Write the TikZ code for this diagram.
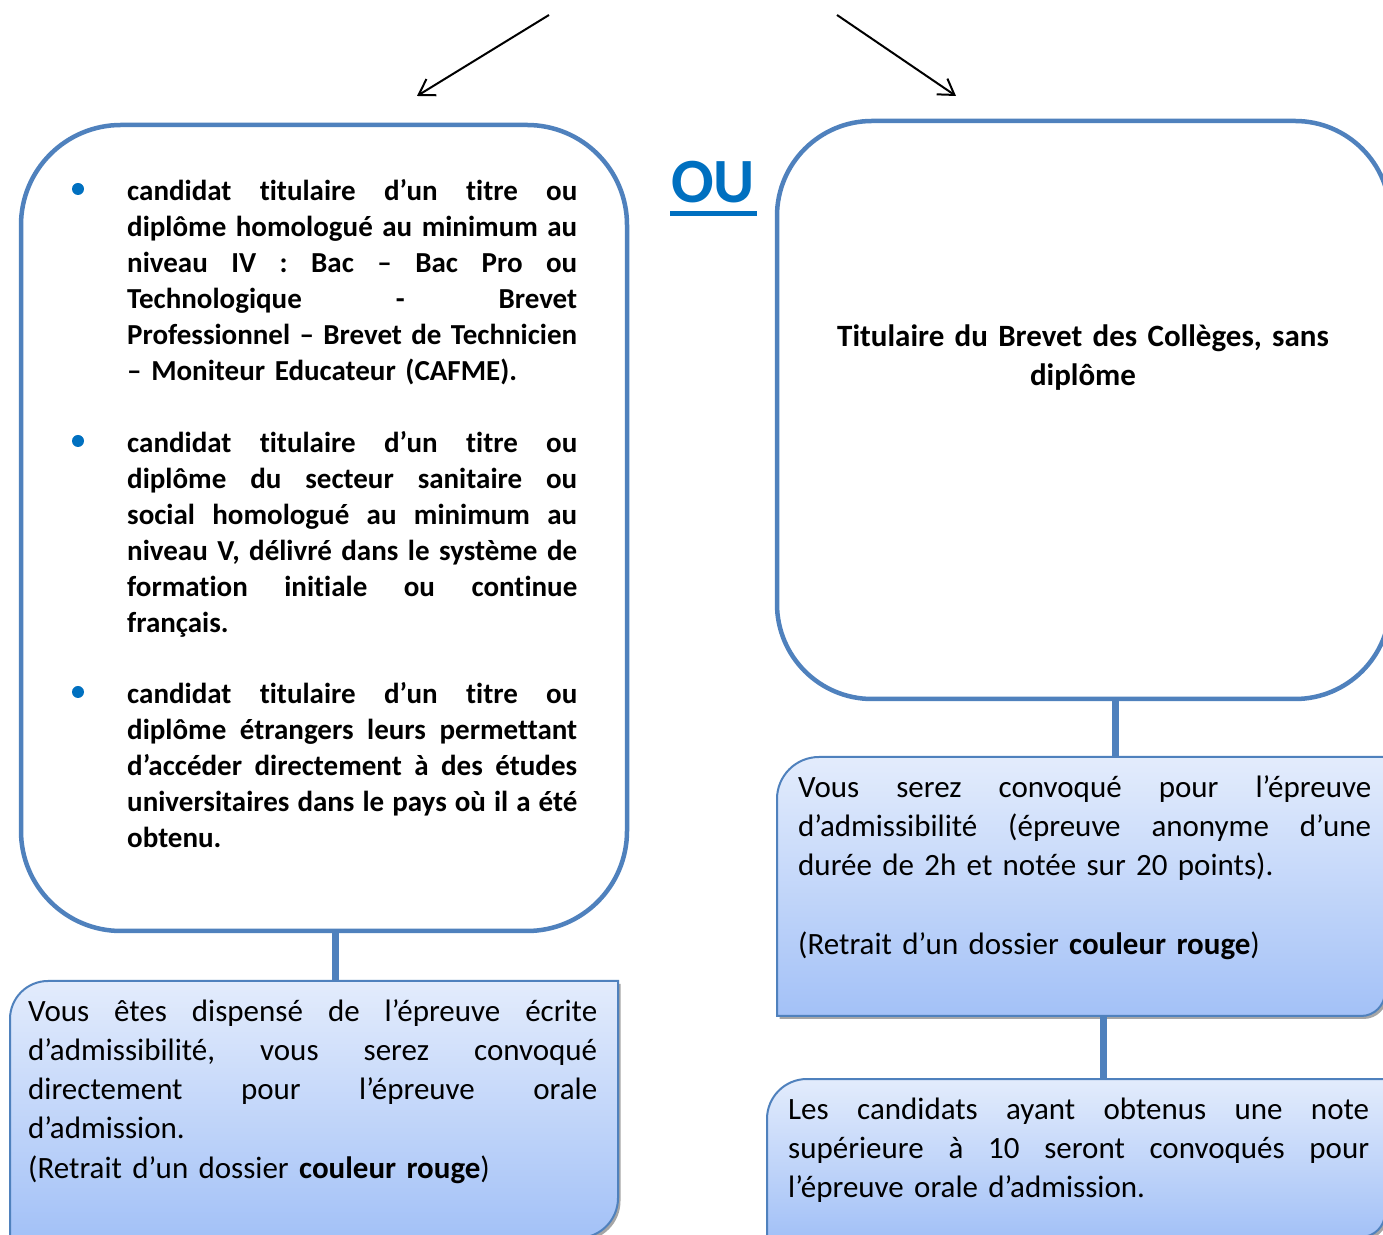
\documentclass[tikz,border=0pt]{standalone}
\usepackage{fontspec}
\setmainfont{Carlito}[Ligatures=NoCommon]
\usetikzlibrary{arrows.meta}
\definecolor{boxblue}{HTML}{4F81BD}
\definecolor{oublue}{HTML}{0070C0}
\definecolor{gradtop}{HTML}{E3ECFC}
\definecolor{gradbot}{HTML}{A3C1F7}
\newcommand\jl[2]{{\spaceskip=0pt\xspaceskip=0pt\makebox[#1][s]{#2}}}
\newcommand\jb[1]{\jl{450pt}{#1}}
\frenchspacing
\tikzset{
  whitebox/.style={draw=boxblue, line width=4.5pt, fill=white, rectangle, inner sep=0pt},
  gframe/.style={rectangle, draw=none, inner sep=0pt},
  gfill/.style={draw=boxblue, line width=2pt, top color=gradtop, bottom color=gradbot},
  gshadow/.style={fill=black!35},
  conn/.style={draw=boxblue, line width=7pt},
  arr/.style={draw=black, line width=2pt, -{Straight Barb[length=15pt,width=19pt]}},
  btext/.style={inner sep=0pt, anchor=north west, align=left, font=\fontsize{29}{36.1}\selectfont\bfseries, text width=450pt},
  ntext/.style={inner sep=0pt, anchor=north west, align=left, font=\fontsize{31}{39.2}\selectfont},
  bulletdot/.style={circle, fill=oublue, minimum size=12pt, inner sep=0pt}
}
\begin{document}
\begin{tikzpicture}[x=1pt,y=1pt]
\useasboundingbox (0,0) rectangle (1383,1234);
\clip (0,0) rectangle (1383,1234);
\fill[white] (0,0) rectangle (1383,1234);

% white boxes
\node[whitebox, rounded corners=100pt, minimum width=606pt, minimum height=806pt] (wl) at (324,706) {};
\node[whitebox, rounded corners=95pt, minimum width=613pt, minimum height=578pt] (wr) at (1083.5,824) {};

% gradient box frames (for anchors)
\node[gframe, minimum width=608pt, minimum height=257pt] (gl) at (314,124.5) {};
\node[gframe, minimum width=608pt, minimum height=259pt] (gr1) at (1081,347.5) {};
\node[gframe, minimum width=618pt, minimum height=158pt] (gr2) at (1076,76) {};

% shadows
\fill[gshadow, xshift=2.5pt, yshift=-3pt] (10,215) .. controls (10,236) and (27,253) .. (48,253) -- (618,253) -- (618,36) .. controls (618,13.9) and (600.1,-4) .. (578,-4) -- (10,-4) -- cycle;
\fill[gshadow, xshift=2.5pt, yshift=-3pt] (777,435) .. controls (777,458.2) and (795.8,477) .. (819,477) -- (1385,477) -- (1385,242) .. controls (1385,228.7) and (1374.3,218) .. (1361,218) -- (777,218) -- cycle;
\fill[gshadow, xshift=2.5pt, yshift=-3pt] (767,115) .. controls (767,137.1) and (784.9,155) .. (807,155) -- (1385,155) -- (1385,21) .. controls (1385,7.7) and (1374.3,-3) .. (1361,-3) -- (767,-3) -- cycle;

% gradient boxes
\path[gfill] (10,215) .. controls (10,236) and (27,253) .. (48,253) -- (618,253) -- (618,36) .. controls (618,13.9) and (600.1,-4) .. (578,-4) -- (10,-4) -- cycle;
\path[gfill] (777,435) .. controls (777,458.2) and (795.8,477) .. (819,477) -- (1385,477) -- (1385,242) .. controls (1385,228.7) and (1374.3,218) .. (1361,218) -- (777,218) -- cycle;
\path[gfill] (767,115) .. controls (767,137.1) and (784.9,155) .. (807,155) -- (1385,155) -- (1385,21) .. controls (1385,7.7) and (1374.3,-3) .. (1361,-3) -- (767,-3) -- cycle;

% connectors
\coordinate (cA) at (335,0);
\coordinate (cB) at (1115,0);
\coordinate (cC) at (1103,0);
\draw[conn] (wl.south -| cA) -- (gl.north -| cA);
\draw[conn] (wr.south -| cB) -- (gr1.north -| cB);
\draw[conn] (gr1.south -| cC) -- (gr2.north -| cC);

% arrows
\coordinate (a1s) at (549,1219);
\coordinate (a1e) at (417,1138);
\coordinate (a2s) at (837,1219);
\coordinate (a2e) at (956,1138);
\draw[arr] (a1s) -- (a1e);
\draw[arr] (a2s) -- (a2e);

% OU
\node[anchor=base west, inner sep=0pt, text=oublue, font=\fontsize{63}{63}\selectfont\bfseries] (ou) at (670,1031) {\vtop{\hbox{\kern1pt OU\kern2pt}\kern8pt\hrule height 5pt}};

% title
\node[anchor=north, inner sep=0pt, align=center, text width=560pt, font=\fontsize{31}{39}\selectfont\bfseries] (title) at (1083,915.3) {\strut Titulaire du Brevet des Collèges, sans\\diplôme};

% bullets
\node[bulletdot] (b1) at (78,1045) {};
\node[bulletdot] (b2) at (78,793) {};
\node[bulletdot] (b3) at (78,542) {};

% list texts
\node[btext] (t1) at (127,1059.3) {\strut\jb{candidat titulaire d’un titre ou}\\
\jb{diplôme homologué au minimum au}\\
\jb{niveau IV : Bac – Bac Pro ou}\\
\jb{Technologique - Brevet}\\
\jb{Professionnel – Brevet de Technicien}\\
– Moniteur Educateur (CAFME).};
\node[btext] (t2) at (127,807.3) {\strut\jb{candidat titulaire d’un titre ou}\\
\jb{diplôme du secteur sanitaire ou}\\
\jb{social homologué au minimum au}\\
\jb{niveau V, délivré dans le système de}\\
\jb{formation initiale ou continue}\\
français.};
\node[btext] (t3) at (127,556.3) {\strut\jb{candidat titulaire d’un titre ou}\\
\jb{diplôme étrangers leurs permettant}\\
\jb{d’accéder directement à des études}\\
\jb{universitaires dans le pays où il a été}\\
obtenu.};

% gradient box texts
\node[ntext, text width=569pt] (gtl) at (28,240.4) {\strut\jl{569pt}{Vous êtes dispensé de l’épreuve écrite}\\
\jl{569pt}{d’admissibilité, vous serez convoqué}\\
\jl{569pt}{directement pour l’épreuve orale}\\
d’admission.\\
(Retrait d’un dossier \textbf{couleur rouge})};
\node[ntext, text width=573pt] (gtr1) at (798,464.4) {\strut\jl{573pt}{Vous serez convoqué pour l’épreuve}\\
\jl{573pt}{d’admissibilité (épreuve anonyme d’une}\\
durée de 2h et notée sur 20 points).\\
\strut\\
(Retrait d’un dossier \textbf{couleur rouge})};
\node[ntext, text width=581pt] (gtr2) at (788,142.4) {\strut\jl{581pt}{Les candidats ayant obtenus une note}\\
\jl{581pt}{supérieure à 10 seront convoqués pour}\\
l’épreuve orale d’admission.};
\end{tikzpicture}
\end{document}
